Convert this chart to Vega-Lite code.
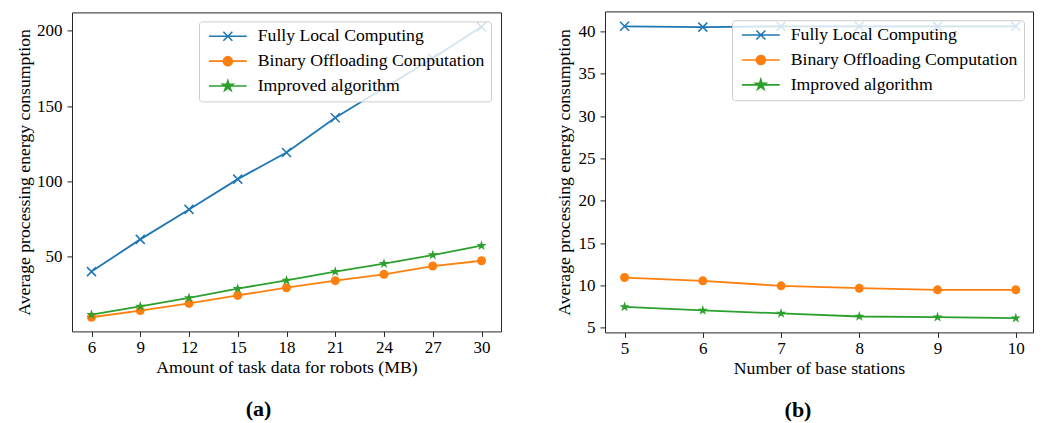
{
  "$schema": "https://vega.github.io/schema/vega-lite/v6.json",
  "background": "white",
  "padding": {"left": 15, "top": 10, "right": 0, "bottom": 0},
  "config": {
    "font": "Liberation Serif",
    "view": {"stroke": "#262626", "strokeWidth": 1},
    "axis": {
      "labelFont": "Liberation Serif", "labelFontSize": 17, "labelColor": "#000",
      "titleFont": "Liberation Serif", "titleFontSize": 17.7, "titleFontWeight": "normal", "titleColor": "#000",
      "grid": false, "domain": false, "tickColor": "#262626", "tickSize": 5, "tickWidth": 1
    },
    "axisX": {"labelPadding": 3, "titlePadding": 3},
    "axisY": {"labelPadding": 5, "titlePadding": 5},
    "legend": {
      "orient": "none", "title": null, "labelFont": "Liberation Serif", "labelFontSize": 17.7, "labelColor": "#000",
      "fillColor": "rgba(255,255,255,0.8)", "strokeColor": "#cccccc", "cornerRadius": 3, "padding": 6,
      "symbolSize": 81, "symbolOffset": 14, "labelOffset": 21, "rowPadding": 5.9, "labelLimit": 400
    }
  },
  "datasets": {
    "a": [
      {"x": 6, "y": 40.1, "series": "Fully Local Computing"},
      {"x": 9, "y": 61.5, "series": "Fully Local Computing"},
      {"x": 12, "y": 81.4, "series": "Fully Local Computing"},
      {"x": 15, "y": 101.5, "series": "Fully Local Computing"},
      {"x": 18, "y": 119.2, "series": "Fully Local Computing"},
      {"x": 21, "y": 142.2, "series": "Fully Local Computing"},
      {"x": 24, "y": 162.0, "series": "Fully Local Computing"},
      {"x": 27, "y": 181.8, "series": "Fully Local Computing"},
      {"x": 30, "y": 202.6, "series": "Fully Local Computing"},
      {"x": 6, "y": 9.8, "series": "Binary Offloading Computation"},
      {"x": 9, "y": 14.2, "series": "Binary Offloading Computation"},
      {"x": 12, "y": 19.0, "series": "Binary Offloading Computation"},
      {"x": 15, "y": 24.3, "series": "Binary Offloading Computation"},
      {"x": 18, "y": 29.4, "series": "Binary Offloading Computation"},
      {"x": 21, "y": 34.1, "series": "Binary Offloading Computation"},
      {"x": 24, "y": 38.3, "series": "Binary Offloading Computation"},
      {"x": 27, "y": 43.8, "series": "Binary Offloading Computation"},
      {"x": 30, "y": 47.3, "series": "Binary Offloading Computation"},
      {"x": 6, "y": 11.5, "series": "Improved algorithm"},
      {"x": 9, "y": 17.0, "series": "Improved algorithm"},
      {"x": 12, "y": 22.6, "series": "Improved algorithm"},
      {"x": 15, "y": 28.8, "series": "Improved algorithm"},
      {"x": 18, "y": 34.3, "series": "Improved algorithm"},
      {"x": 21, "y": 40.1, "series": "Improved algorithm"},
      {"x": 24, "y": 45.4, "series": "Improved algorithm"},
      {"x": 27, "y": 51.1, "series": "Improved algorithm"},
      {"x": 30, "y": 57.3, "series": "Improved algorithm"}
    ],
    "b": [
      {"x": 5, "y": 40.6, "series": "Fully Local Computing"},
      {"x": 6, "y": 40.5, "series": "Fully Local Computing"},
      {"x": 7, "y": 40.6, "series": "Fully Local Computing"},
      {"x": 8, "y": 40.6, "series": "Fully Local Computing"},
      {"x": 9, "y": 40.6, "series": "Fully Local Computing"},
      {"x": 10, "y": 40.6, "series": "Fully Local Computing"},
      {"x": 5, "y": 10.93, "series": "Binary Offloading Computation"},
      {"x": 6, "y": 10.54, "series": "Binary Offloading Computation"},
      {"x": 7, "y": 9.95, "series": "Binary Offloading Computation"},
      {"x": 8, "y": 9.67, "series": "Binary Offloading Computation"},
      {"x": 9, "y": 9.48, "series": "Binary Offloading Computation"},
      {"x": 10, "y": 9.48, "series": "Binary Offloading Computation"},
      {"x": 5, "y": 7.47, "series": "Improved algorithm"},
      {"x": 6, "y": 7.04, "series": "Improved algorithm"},
      {"x": 7, "y": 6.69, "series": "Improved algorithm"},
      {"x": 8, "y": 6.33, "series": "Improved algorithm"},
      {"x": 9, "y": 6.25, "series": "Improved algorithm"},
      {"x": 10, "y": 6.13, "series": "Improved algorithm"}
    ]
  },
  "spacing": 52,
  "center": true,
  "resolve": {"scale": {"color": "independent"}, "legend": {"color": "independent"}},
  "hconcat": [
    {
      "width": 429, "height": 319,
      "data": {"name": "a"},
      "title": {"text": "(a)", "orient": "bottom", "anchor": "middle", "frame": "group", "dx": -28, "offset": 23, "fontSize": 22, "fontWeight": "bold", "font": "Liberation Serif", "color": "#000"},
      "encoding": {
        "x": {"field": "x", "type": "quantitative", "scale": {"domain": [4.8, 31.2], "nice": false, "zero": false}, "axis": {"values": [6, 9, 12, 15, 18, 21, 24, 27, 30], "title": "Amount of task data for robots (MB)"}},
        "y": {"field": "y", "type": "quantitative", "scale": {"domain": [0.4, 212.2], "nice": false, "zero": false}, "axis": {"values": [50, 100, 150, 200], "title": "Average processing energy consumption", "titlePadding": 3}},
        "color": {
          "field": "series", "type": "nominal",
          "scale": {"domain": ["Fully Local Computing", "Binary Offloading Computation", "Improved algorithm"], "range": ["#1f77b4", "#ff7f0e", "#2ca02c"]},
          "legend": {
            "legendX": 127, "legendY": 9,
            "encode": {"symbols": {"update": {
              "shape": {"signal": "datum.value === 'Fully Local Computing' ? 'M-4.2,0L4.2,0M-1,-1L1,1M1,-1L-1,1' : datum.value === 'Binary Offloading Computation' ? 'M-4.2,0L4.2,0M1,0A1,1,0,1,1,-1,0A1,1,0,1,1,1,0Z' : 'M-4.2,0L4.2,0M0,-1.2L0.27,-0.372L1.141,-0.371L0.437,0.142L0.705,0.971L0,0.46L-0.705,0.971L-0.437,0.142L-1.141,-0.371L-0.27,-0.372Z'"},
              "fill": {"signal": "datum.value === 'Fully Local Computing' ? '#1f77b4' : datum.value === 'Binary Offloading Computation' ? '#ff7f0e' : '#2ca02c'"},
              "stroke": {"signal": "datum.value === 'Fully Local Computing' ? '#1f77b4' : datum.value === 'Binary Offloading Computation' ? '#ff7f0e' : '#2ca02c'"},
              "strokeWidth": {"value": 1.6},
              "opacity": {"value": 1}
            }}}
          }
        }
      },
      "layer": [
        {"mark": {"type": "line", "strokeWidth": 1.8}},
        {"transform": [{"filter": "datum.series === 'Fully Local Computing'"}], "mark": {"type": "point", "shape": "M-1,-1L1,1M1,-1L-1,1", "filled": false, "size": 81, "strokeWidth": 1.5, "opacity": 1}},
        {"transform": [{"filter": "datum.series === 'Binary Offloading Computation'"}], "mark": {"type": "point", "shape": "circle", "filled": true, "size": 81, "opacity": 1}},
        {"transform": [{"filter": "datum.series === 'Improved algorithm'"}], "mark": {"type": "point", "shape": "M0,-1.2L0.27,-0.372L1.141,-0.371L0.437,0.142L0.705,0.971L0,0.46L-0.705,0.971L-0.437,0.142L-1.141,-0.371L-0.27,-0.372Z", "filled": true, "size": 81, "opacity": 1}}
      ]
    },
    {
      "width": 428, "height": 321,
      "data": {"name": "b"},
      "title": {"text": "(b)", "orient": "bottom", "anchor": "middle", "frame": "group", "dx": -21, "offset": 23, "fontSize": 22, "fontWeight": "bold", "font": "Liberation Serif", "color": "#000"},
      "encoding": {
        "x": {"field": "x", "type": "quantitative", "scale": {"domain": [4.75, 10.22], "nice": false, "zero": false}, "axis": {"values": [5, 6, 7, 8, 9, 10], "title": "Number of base stations"}},
        "y": {"field": "y", "type": "quantitative", "scale": {"domain": [4.45, 42.36], "nice": false, "zero": false}, "axis": {"values": [5, 10, 15, 20, 25, 30, 35, 40], "title": "Average processing energy consumption"}},
        "color": {
          "field": "series", "type": "nominal",
          "scale": {"domain": ["Fully Local Computing", "Binary Offloading Computation", "Improved algorithm"], "range": ["#1f77b4", "#ff7f0e", "#2ca02c"]},
          "legend": {
            "legendX": 127, "legendY": 8.8,
            "encode": {"symbols": {"update": {
              "shape": {"signal": "datum.value === 'Fully Local Computing' ? 'M-4.2,0L4.2,0M-1,-1L1,1M1,-1L-1,1' : datum.value === 'Binary Offloading Computation' ? 'M-4.2,0L4.2,0M1,0A1,1,0,1,1,-1,0A1,1,0,1,1,1,0Z' : 'M-4.2,0L4.2,0M0,-1.2L0.27,-0.372L1.141,-0.371L0.437,0.142L0.705,0.971L0,0.46L-0.705,0.971L-0.437,0.142L-1.141,-0.371L-0.27,-0.372Z'"},
              "fill": {"signal": "datum.value === 'Fully Local Computing' ? '#1f77b4' : datum.value === 'Binary Offloading Computation' ? '#ff7f0e' : '#2ca02c'"},
              "stroke": {"signal": "datum.value === 'Fully Local Computing' ? '#1f77b4' : datum.value === 'Binary Offloading Computation' ? '#ff7f0e' : '#2ca02c'"},
              "strokeWidth": {"value": 1.6},
              "opacity": {"value": 1}
            }}}
          }
        }
      },
      "layer": [
        {"mark": {"type": "line", "strokeWidth": 1.8}},
        {"transform": [{"filter": "datum.series === 'Fully Local Computing'"}], "mark": {"type": "point", "shape": "M-1,-1L1,1M1,-1L-1,1", "filled": false, "size": 81, "strokeWidth": 1.5, "opacity": 1}},
        {"transform": [{"filter": "datum.series === 'Binary Offloading Computation'"}], "mark": {"type": "point", "shape": "circle", "filled": true, "size": 81, "opacity": 1}},
        {"transform": [{"filter": "datum.series === 'Improved algorithm'"}], "mark": {"type": "point", "shape": "M0,-1.2L0.27,-0.372L1.141,-0.371L0.437,0.142L0.705,0.971L0,0.46L-0.705,0.971L-0.437,0.142L-1.141,-0.371L-0.27,-0.372Z", "filled": true, "size": 81, "opacity": 1}}
      ]
    }
  ]
}
